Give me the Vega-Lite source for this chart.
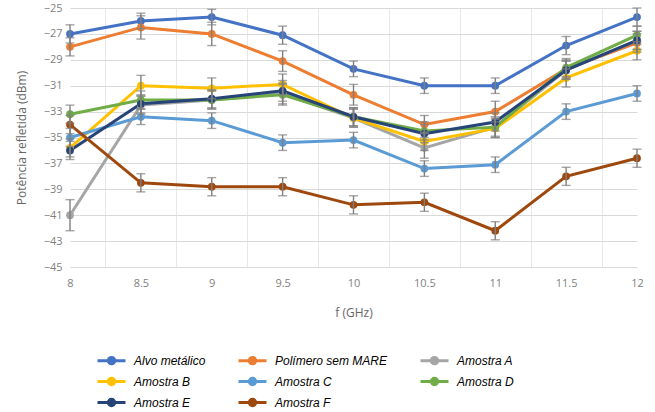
{
  "$schema": "https://vega.github.io/schema/vega-lite/v6.json",
  "width": 567,
  "height": 259,
  "autosize": "none",
  "padding": {"left": 70, "top": 8, "right": 18, "bottom": 145},
  "background": "white",
  "config": {
    "view": {"stroke": null},
    "font": "Open Sans",
    "axis": {"labelFont": "Open Sans", "titleFont": "Open Sans", "labelColor": "#7f7f7f", "titleColor": "#666666", "labelFontSize": 11, "titleFontSize": 12, "titleFontWeight": "normal", "ticks": false, "domain": false}
  },
  "data": {
    "values": [
      {"s": "Alvo metálico", "f": 8, "v": -27.0, "e": 0.7},
      {"s": "Alvo metálico", "f": 8.5, "v": -26.0, "e": 0.6},
      {"s": "Alvo metálico", "f": 9, "v": -25.7, "e": 0.6},
      {"s": "Alvo metálico", "f": 9.5, "v": -27.1, "e": 0.7},
      {"s": "Alvo metálico", "f": 10, "v": -29.7, "e": 0.6},
      {"s": "Alvo metálico", "f": 10.5, "v": -31.0, "e": 0.6},
      {"s": "Alvo metálico", "f": 11, "v": -31.0, "e": 0.6},
      {"s": "Alvo metálico", "f": 11.5, "v": -27.9, "e": 0.7},
      {"s": "Alvo metálico", "f": 12, "v": -25.7, "e": 0.7},
      {"s": "Polímero sem MARE", "f": 8, "v": -28.0, "e": 0.7},
      {"s": "Polímero sem MARE", "f": 8.5, "v": -26.5, "e": 0.9},
      {"s": "Polímero sem MARE", "f": 9, "v": -27.0, "e": 0.9},
      {"s": "Polímero sem MARE", "f": 9.5, "v": -29.1, "e": 0.8},
      {"s": "Polímero sem MARE", "f": 10, "v": -31.7, "e": 0.8},
      {"s": "Polímero sem MARE", "f": 10.5, "v": -34.0, "e": 0.7},
      {"s": "Polímero sem MARE", "f": 11, "v": -33.0, "e": 0.8},
      {"s": "Polímero sem MARE", "f": 11.5, "v": -29.7, "e": 0.7},
      {"s": "Polímero sem MARE", "f": 12, "v": -27.7, "e": 0.7},
      {"s": "Amostra A", "f": 8, "v": -41.0, "e": 1.2},
      {"s": "Amostra A", "f": 8.5, "v": -32.5, "e": 0.7},
      {"s": "Amostra A", "f": 9, "v": -32.1, "e": 0.7},
      {"s": "Amostra A", "f": 9.5, "v": -31.6, "e": 0.8},
      {"s": "Amostra A", "f": 10, "v": -33.5, "e": 0.7},
      {"s": "Amostra A", "f": 10.5, "v": -35.8, "e": 0.8},
      {"s": "Amostra A", "f": 11, "v": -34.2, "e": 0.8},
      {"s": "Amostra A", "f": 11.5, "v": -29.8, "e": 0.7},
      {"s": "Amostra A", "f": 12, "v": -27.5, "e": 0.7},
      {"s": "Amostra B", "f": 8, "v": -35.8, "e": 0.7},
      {"s": "Amostra B", "f": 8.5, "v": -31.0, "e": 0.8},
      {"s": "Amostra B", "f": 9, "v": -31.2, "e": 0.8},
      {"s": "Amostra B", "f": 9.5, "v": -30.9, "e": 0.8},
      {"s": "Amostra B", "f": 10, "v": -33.5, "e": 0.7},
      {"s": "Amostra B", "f": 10.5, "v": -35.3, "e": 0.7},
      {"s": "Amostra B", "f": 11, "v": -34.3, "e": 0.7},
      {"s": "Amostra B", "f": 11.5, "v": -30.4, "e": 0.7},
      {"s": "Amostra B", "f": 12, "v": -28.3, "e": 0.7},
      {"s": "Amostra C", "f": 8, "v": -35.0, "e": 0.7},
      {"s": "Amostra C", "f": 8.5, "v": -33.4, "e": 0.6},
      {"s": "Amostra C", "f": 9, "v": -33.7, "e": 0.6},
      {"s": "Amostra C", "f": 9.5, "v": -35.4, "e": 0.6},
      {"s": "Amostra C", "f": 10, "v": -35.2, "e": 0.6},
      {"s": "Amostra C", "f": 10.5, "v": -37.4, "e": 0.6},
      {"s": "Amostra C", "f": 11, "v": -37.1, "e": 0.6},
      {"s": "Amostra C", "f": 11.5, "v": -33.0, "e": 0.6},
      {"s": "Amostra C", "f": 12, "v": -31.6, "e": 0.6},
      {"s": "Amostra D", "f": 8, "v": -33.2, "e": 0.7},
      {"s": "Amostra D", "f": 8.5, "v": -32.1, "e": 0.7},
      {"s": "Amostra D", "f": 9, "v": -32.1, "e": 0.7},
      {"s": "Amostra D", "f": 9.5, "v": -31.7, "e": 0.8},
      {"s": "Amostra D", "f": 10, "v": -33.4, "e": 0.7},
      {"s": "Amostra D", "f": 10.5, "v": -34.5, "e": 0.7},
      {"s": "Amostra D", "f": 11, "v": -34.2, "e": 0.7},
      {"s": "Amostra D", "f": 11.5, "v": -29.6, "e": 0.7},
      {"s": "Amostra D", "f": 12, "v": -27.1, "e": 0.7},
      {"s": "Amostra E", "f": 8, "v": -36.0, "e": 0.7},
      {"s": "Amostra E", "f": 8.5, "v": -32.4, "e": 0.7},
      {"s": "Amostra E", "f": 9, "v": -32.0, "e": 0.7},
      {"s": "Amostra E", "f": 9.5, "v": -31.4, "e": 0.8},
      {"s": "Amostra E", "f": 10, "v": -33.4, "e": 0.7},
      {"s": "Amostra E", "f": 10.5, "v": -34.7, "e": 0.7},
      {"s": "Amostra E", "f": 11, "v": -33.8, "e": 0.7},
      {"s": "Amostra E", "f": 11.5, "v": -29.8, "e": 0.7},
      {"s": "Amostra E", "f": 12, "v": -27.5, "e": 0.7},
      {"s": "Amostra F", "f": 8, "v": -34.0, "e": 0.7},
      {"s": "Amostra F", "f": 8.5, "v": -38.5, "e": 0.7},
      {"s": "Amostra F", "f": 9, "v": -38.8, "e": 0.7},
      {"s": "Amostra F", "f": 9.5, "v": -38.8, "e": 0.7},
      {"s": "Amostra F", "f": 10, "v": -40.2, "e": 0.7},
      {"s": "Amostra F", "f": 10.5, "v": -40.0, "e": 0.7},
      {"s": "Amostra F", "f": 11, "v": -42.2, "e": 0.7},
      {"s": "Amostra F", "f": 11.5, "v": -38.0, "e": 0.7},
      {"s": "Amostra F", "f": 12, "v": -36.6, "e": 0.7}
    ]
  },
  "encoding": {
    "x": {
      "field": "f", "type": "quantitative", "title": "f (GHz)",
      "scale": {"domain": [8, 12], "nice": false},
      "axis": {
        "values": [8, 8.25, 8.5, 8.75, 9, 9.25, 9.5, 9.75, 10, 10.25, 10.5, 10.75, 11, 11.25, 11.5, 11.75, 12],
        "format": "~g",
        "labelExpr": "(datum.value * 2) % 1 == 0 ? datum.label : ''",
        "grid": true,
        "gridColor": "#e8e8e8",
        "gridWidth": 1,
        "gridOpacity": {"condition": {"test": "(datum.value * 2) % 1 != 0", "value": 1}, "value": 0},
        "labelPadding": 10,
        "titlePadding": 19,
        "labelFlush": false
      }
    },
    "y": {
      "field": "v", "type": "quantitative", "title": "Potência refletida (dBm)",
      "scale": {"domain": [-45, -25], "nice": false},
      "axis": {
        "values": [-45, -43, -41, -39, -37, -35, -33, -31, -29, -27, -25],
        "grid": true,
        "gridColor": "#d9d9d9",
        "gridWidth": 1.2,
        "labelPadding": 8,
        "titlePadding": 15
      }
    },
    "color": {
      "field": "s", "type": "nominal", "title": null,
      "scale": {
        "domain": ["Alvo metálico", "Polímero sem MARE", "Amostra A", "Amostra B", "Amostra C", "Amostra D", "Amostra E", "Amostra F"],
        "range": ["#4472C4", "#ED7D31", "#A5A5A5", "#FFC000", "#5B9BD5", "#70AD47", "#264478", "#9E480E"]
      },
      "legend": {
        "orient": "none",
        "legendX": 30,
        "legendY": 341,
        "direction": "horizontal",
        "columns": 3,
        "columnPadding": 26,
        "rowPadding": -1,
        "symbolType": "M-1.4,0H1.4M-0.32,0A0.32,0.32,0,1,0,0.32,0A0.32,0.32,0,1,0,-0.32,0",
        "symbolSize": 400,
        "symbolStrokeWidth": 3,
        "labelOffset": 11,
        "labelFont": "Liberation Sans",
        "labelFontStyle": "italic",
        "labelFontSize": 12,
        "labelColor": "#000000",
        "labelLimit": 200
      }
    }
  },
  "layer": [
    {
      "mark": {"type": "line", "strokeWidth": 3},
      "encoding": {"order": {"field": "f"}}
    },
    {
      "mark": {"type": "point", "filled": true, "size": 60, "opacity": 1}
    },
    {
      "mark": {"type": "errorbar", "ticks": {"size": 9}, "color": "#7f7f7f", "thickness": 1.4},
      "encoding": {
        "y": {"field": "v", "type": "quantitative"},
        "yError": {"field": "e"},
        "detail": {"field": "s"},
        "color": {"value": "#7f7f7f"}
      }
    }
  ]
}
